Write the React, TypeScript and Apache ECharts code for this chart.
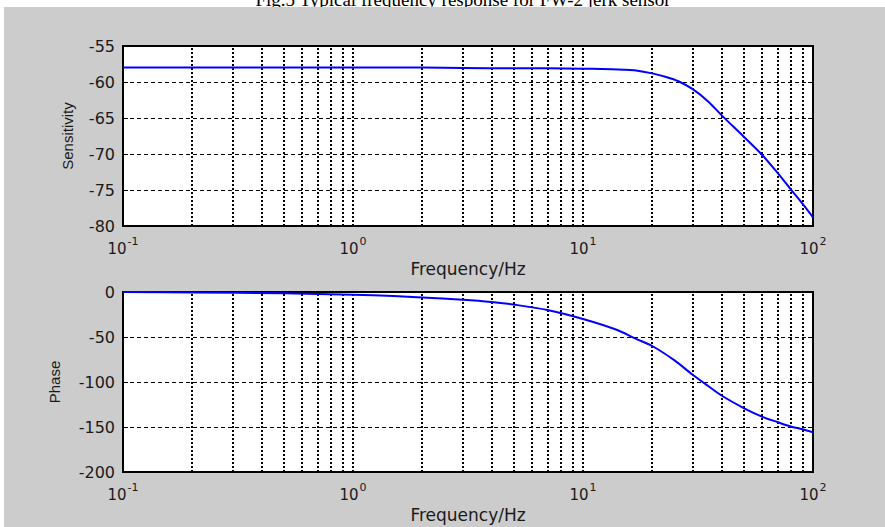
import React, { useEffect, useRef } from "react";
import * as echarts from "echarts";

const sensFreq = [0.1, 0.2, 0.5, 1, 2, 3, 5, 7, 10, 12, 15, 17, 20, 23, 26, 30, 35, 40, 50, 60, 70, 80, 90, 100];
const sensitivity = [-58, -58, -58, -58, -58, -58.05, -58.1, -58.1, -58.15, -58.2, -58.3, -58.4, -58.8, -59.3, -59.9, -61.0, -62.7, -64.6, -67.6, -70.1, -72.6, -74.9, -76.9, -78.8];
const phaseFreq = [0.1, 0.2, 0.5, 1, 1.5, 2, 3, 4, 5, 7, 10, 14, 17, 20, 25, 30, 35, 40, 50, 60, 70, 80, 90, 100];
const phase = [0, -0.5, -1.5, -3, -4.5, -6, -8.5, -11, -14, -20, -30, -42, -52, -60, -76, -92, -104.5, -115, -129, -138.5, -144.5, -149.5, -152.5, -156];
const gridFreqs = [0.2, 0.3, 0.4, 0.5, 0.6, 0.7, 0.8, 0.9, 1, 2, 3, 4, 5, 6, 7, 8, 9, 10, 20, 30, 40, 50, 60, 70, 80, 90];

const TITLE = "Fig.5 Typical frequency response for FW-2 jerk sensor";
const X_NAME = "Frequency/Hz";

export default function App() {
  const ref = useRef<HTMLDivElement>(null);
  useEffect(() => {
    if (!ref.current) return;
    const chart = echarts.init(ref.current, undefined, { renderer: "svg" });
    const txt = "#1a1a1a";
    const sans = "DejaVu Sans";
    const xAxisBase = (gridIndex: number) => ({
      type: "log",
      logBase: 10,
      gridIndex,
      min: 0.1,
      max: 100,
      axisLine: { show: true, lineStyle: { color: "#000", width: 2 } },
      axisTick: { show: false },
      splitLine: { show: false },
      axisLabel: {
        margin: 10,
        formatter: (v: number) => `{b|10}{s|${Math.round(Math.log10(v))}}`,
        rich: {
          b: { fontFamily: sans, fontSize: 15, color: txt, verticalAlign: "bottom", lineHeight: 20 },
          s: { fontFamily: sans, fontSize: 11, color: txt, verticalAlign: "top", lineHeight: 20, padding: [0, 0, 0, 1] },
        },
      },
      name: X_NAME,
      nameLocation: "middle",
      nameGap: 34,
      nameTextStyle: { fontFamily: sans, fontSize: 17, color: txt },
    });
    const yLeft = (gridIndex: number, min: number, max: number, interval: number, name: string, nameGap: number) => ({
      type: "value",
      gridIndex,
      min,
      max,
      interval,
      position: "left",
      axisLine: { show: true, lineStyle: { color: "#000", width: 2 } },
      axisTick: { show: true, inside: true, length: 5, lineStyle: { color: "#000", width: 1 } },
      splitLine: { show: true, lineStyle: { color: "#000", width: 1, type: [4, 3] } },
      axisLabel: { fontFamily: sans, fontSize: 16, color: txt, margin: 8 },
      name,
      nameLocation: "middle",
      nameRotate: 90,
      nameGap,
      nameTextStyle: { fontFamily: "Liberation Sans", fontSize: 15, color: txt },
    });
    const yRight = (gridIndex: number, min: number, max: number, interval: number) => ({
      type: "value",
      gridIndex,
      min,
      max,
      interval,
      position: "right",
      axisLine: { show: false },
      axisTick: { show: true, inside: true, length: 5, lineStyle: { color: "#000", width: 1 } },
      splitLine: { show: false },
      axisLabel: { show: false },
    });
    const gridMarks = (xi: number, yi: number, y0: number) => ({
      type: "line",
      xAxisIndex: xi,
      yAxisIndex: yi,
      data: [[0.1, y0]],
      showSymbol: false,
      lineStyle: { opacity: 0 },
      silent: true,
      z: 1,
      markLine: {
        silent: true,
        symbol: ["none", "none"],
        label: { show: false },
        lineStyle: { color: "#000", type: [2, 2], width: 2 },
        emphasis: { disabled: true },
        data: gridFreqs.map((v) => ({ xAxis: v })),
      },
    });
    chart.setOption({
      animation: false,
      graphic: [
        {
          type: "text",
          x: 463,
          y: -1,
          z: -10,
          style: { text: TITLE, fontFamily: "Liberation Serif", fontSize: 19, fill: "#000", align: "center", verticalAlign: "middle" },
        },
        { type: "rect", x: 4, y: 7, z: -5, shape: { width: 881, height: 520 }, style: { fill: "#cccccc" } },
      ],
      grid: [
        { left: 123, top: 46, width: 690, height: 180, show: true, backgroundColor: "#fff", borderColor: "#000", borderWidth: 2 },
        { left: 123, top: 292, width: 690, height: 180, show: true, backgroundColor: "#fff", borderColor: "#000", borderWidth: 2 },
      ],
      xAxis: [xAxisBase(0), xAxisBase(1)],
      yAxis: [
        yLeft(0, -80, -55, 5, "Sensitivity", 48),
        yLeft(1, -200, 0, 50, "Phase", 61),
        yRight(0, -80, -55, 5),
        yRight(1, -200, 0, 50),
      ],
      series: [
        gridMarks(0, 0, -80),
        gridMarks(1, 1, -200),
        {
          type: "line",
          xAxisIndex: 0,
          yAxisIndex: 0,
          data: sensFreq.map((f, i) => [f, sensitivity[i]]),
          showSymbol: false,
          smooth: 0.3,
          lineStyle: { color: "#0000ff", width: 2 },
          z: 5,
        },
        {
          type: "line",
          xAxisIndex: 1,
          yAxisIndex: 1,
          data: phaseFreq.map((f, i) => [f, phase[i]]),
          showSymbol: false,
          smooth: 0.3,
          lineStyle: { color: "#0000ff", width: 2 },
          z: 5,
        },
      ],
    });
    return () => chart.dispose();
  }, []);
  return (
    <div
      ref={ref}
      style={{ position: "fixed", left: 0, top: 0, width: 885, height: 527, background: "#fff" }}
    />
  );
}
